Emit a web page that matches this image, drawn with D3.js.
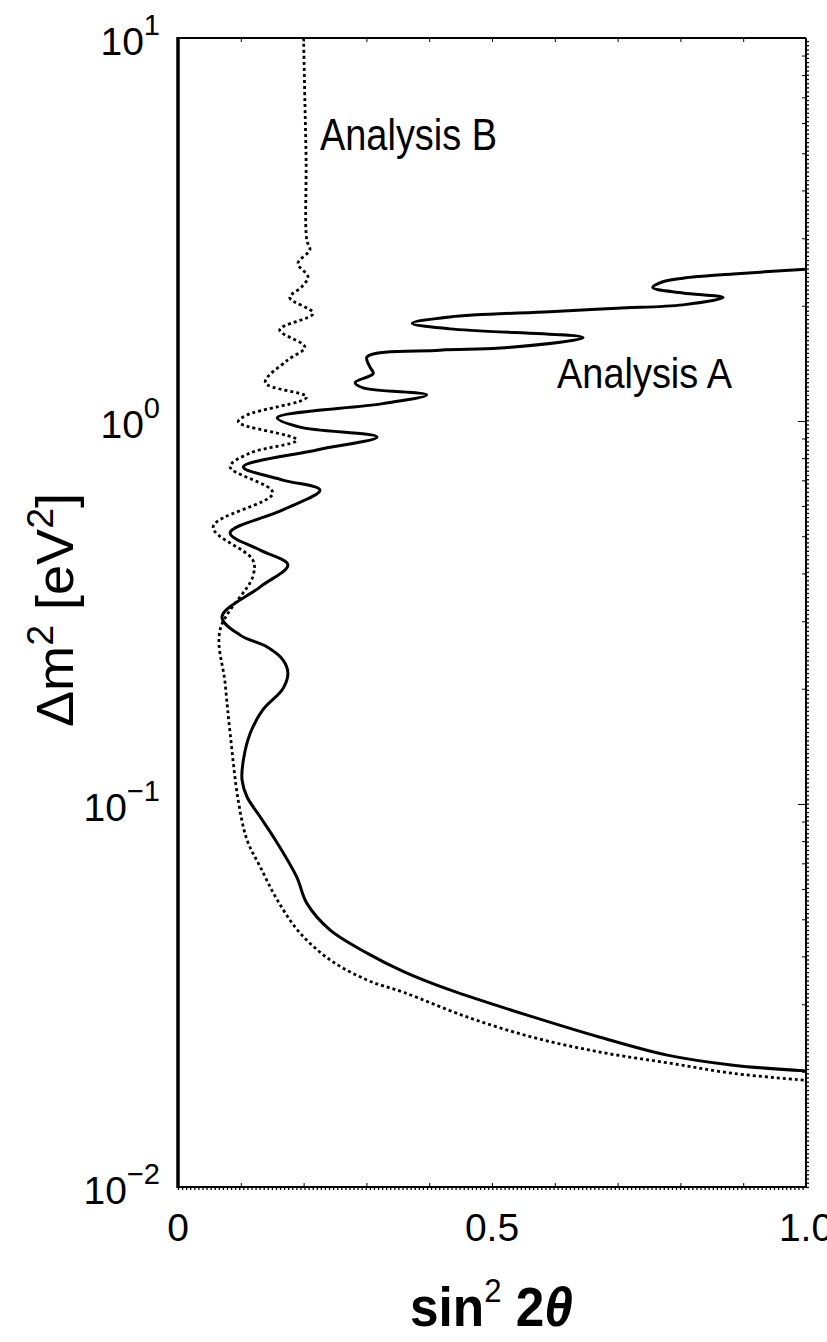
<!DOCTYPE html>
<html>
<head>
<meta charset="utf-8">
<script src="https://cdn.jsdelivr.net/npm/d3@7"></script>
<style>
  body { margin: 0; background: white; }
  text { font-family: "Liberation Sans", Arial, sans-serif; fill: black; }
</style>
</head>
<body>
<div id="root"></div>
<script>
// sin^2 2theta values and delta m^2 values (eV^2)
const analysisAX = [1.0, 0.884, 0.804, 0.772, 0.756, 0.804, 0.868, 0.804, 0.699, 0.592, 0.433, 0.373, 0.433, 0.645,
  0.513, 0.417, 0.301, 0.306, 0.311, 0.282, 0.295, 0.396, 0.326, 0.158, 0.194, 0.317, 0.221, 0.104, 0.167, 0.226,
  0.167, 0.083, 0.131, 0.175, 0.131, 0.070, 0.099, 0.142, 0.167, 0.175, 0.167, 0.135, 0.115, 0.104, 0.102, 0.110, 0.131,
  0.158, 0.189, 0.205, 0.242, 0.301, 0.361, 0.433, 0.565, 0.672, 0.779, 0.884, 1.0];
const analysisAY = [2.49, 2.42, 2.36, 2.31, 2.23, 2.16, 2.10, 2.01, 1.97, 1.93, 1.87, 1.80, 1.74, 1.65,
  1.55, 1.53, 1.47, 1.38, 1.33, 1.26, 1.22, 1.17, 1.11, 1.02, 0.964, 0.908, 0.840, 0.759, 0.701, 0.660,
  0.586, 0.510, 0.460, 0.421, 0.369, 0.308, 0.276, 0.257, 0.238, 0.220, 0.200, 0.176, 0.153, 0.130, 0.1155, 0.1043, 0.0925,
  0.0791, 0.0645, 0.0551, 0.0469, 0.0408, 0.0364, 0.0327, 0.0278, 0.0246, 0.0221, 0.0208, 0.0201];

const analysisBX = [0.200, 0.202, 0.204, 0.205, 0.210, 0.191, 0.207, 0.197, 0.178, 0.215, 0.162, 0.202, 0.174,
  0.139, 0.205, 0.110, 0.096, 0.189, 0.115, 0.083, 0.151, 0.056, 0.119, 0.119, 0.067, 0.075, 0.083, 0.096,
  0.110, 0.131, 0.158, 0.194, 0.242, 0.301, 0.360, 0.460, 0.565, 0.672, 0.779, 0.884, 1.0];
const analysisBY = [10, 6.89, 4.80, 2.97, 2.80, 2.58, 2.38, 2.24, 2.10, 1.91, 1.73, 1.56, 1.44,
  1.26, 1.155, 1.037, 0.994, 0.892, 0.825, 0.759, 0.649, 0.529, 0.434, 0.392, 0.285, 0.207, 0.153, 0.102,
  0.0805, 0.0685, 0.0562, 0.0461, 0.0392, 0.0347, 0.0322, 0.0278, 0.0246, 0.0225, 0.0211, 0.0198, 0.0190];

const xTickValues = [0, 0.5, 1.0];
const xTickLabels = ["0", "0.5", "1.0"];
const yTickValues = [10, 1, 0.1, 0.01];
const yTickExponents = ["1", "0", "\u22121", "\u22122"];

const w = 827;
const h = 1342;
const plotLeft = 178, plotRight = 806, plotTop = 38, plotBottom = 1187;

const xScale = d3.scaleLinear().domain([0, 1]).range([plotLeft, plotRight]);
const yScale = d3.scaleLog().domain([0.01, 10]).range([plotBottom, plotTop]);

const svg = d3.select("#root")
  .append("svg")
  .attr("width", w)
  .attr("height", h)
  .style("background", "white");

// fine hatching under the bottom axis and right of the right axis
svg.append("g")
  .attr("transform", `translate(0, ${plotBottom})`)
  .call(d3.axisBottom(xScale).tickValues(d3.range(0, 1.0001, 0.0065)).tickSize(3).tickFormat(""))
  .call(g => g.select(".domain").remove())
  .call(g => g.selectAll("line").attr("stroke-width", 1.3));

svg.append("g")
  .attr("transform", `translate(${plotRight}, 0)`)
  .call(d3.axisRight(yScale).tickValues(d3.range(-2, 1.0001, 0.011).map(e => Math.pow(10, e))).tickSize(3).tickFormat(""))
  .call(g => g.select(".domain").remove())
  .call(g => g.selectAll("line").attr("stroke-width", 1.3));

// inward ticks
const tenths = d3.range(1, 10).map(i => i / 10);
svg.append("g")
  .attr("transform", `translate(0, ${plotBottom})`)
  .call(d3.axisTop(xScale).tickValues(tenths).tickSize(4).tickFormat(""))
  .call(g => g.select(".domain").remove());
svg.append("g")
  .attr("transform", `translate(0, ${plotTop})`)
  .call(d3.axisBottom(xScale).tickValues(tenths).tickSize(4).tickFormat(""))
  .call(g => g.select(".domain").remove());

const minorY = [];
[0.01, 0.1, 1].forEach(d => { for (let k = 2; k <= 9; k++) minorY.push(d * k); });
svg.append("g")
  .attr("transform", `translate(${plotRight}, 0)`)
  .call(d3.axisLeft(yScale).tickValues(minorY).tickSize(4).tickFormat(""))
  .call(g => g.select(".domain").remove());
svg.append("g")
  .attr("transform", `translate(${plotRight}, 0)`)
  .call(d3.axisLeft(yScale).tickValues([0.1, 1]).tickSize(8).tickFormat(""))
  .call(g => g.select(".domain").remove());

// frame
svg.append("line").attr("x1", plotLeft).attr("x2", plotRight).attr("y1", plotTop).attr("y2", plotTop)
  .attr("stroke", "black").attr("stroke-width", 2);
svg.append("line").attr("x1", plotLeft).attr("x2", plotRight).attr("y1", plotBottom).attr("y2", plotBottom)
  .attr("stroke", "black").attr("stroke-width", 2);
svg.append("line").attr("x1", plotRight).attr("x2", plotRight).attr("y1", plotTop).attr("y2", plotBottom)
  .attr("stroke", "black").attr("stroke-width", 2);
svg.append("line").attr("x1", plotLeft).attr("x2", plotLeft).attr("y1", plotTop - 1).attr("y2", plotBottom + 1)
  .attr("stroke", "black").attr("stroke-width", 3.5);

// curves
const line = d3.line()
  .x(d => xScale(d[0]))
  .y(d => yScale(d[1]))
  .curve(d3.curveCatmullRom.alpha(0.5));

svg.append("path")
  .datum(analysisBX.map((x, i) => [x, analysisBY[i]]))
  .attr("d", line)
  .attr("fill", "none")
  .attr("stroke", "black")
  .attr("stroke-width", 2.8)
  .attr("stroke-dasharray", "3,3");

svg.append("path")
  .datum(analysisAX.map((x, i) => [x, analysisAY[i]]))
  .attr("d", line)
  .attr("fill", "none")
  .attr("stroke", "black")
  .attr("stroke-width", 3);

// tick labels
yTickValues.forEach((v, i) => {
  const t = svg.append("text")
    .attr("x", 160)
    .attr("y", yScale(v) + 17)
    .attr("text-anchor", "end")
    .style("font-size", "39px");
  t.append("tspan").text("10");
  t.append("tspan").attr("dy", -20).style("font-size", "29px").text(yTickExponents[i]);
});

xTickValues.forEach((v, i) => {
  svg.append("text")
    .attr("x", xScale(v))
    .attr("y", plotBottom + 54)
    .attr("text-anchor", "middle")
    .style("font-size", "39px")
    .text(xTickLabels[i]);
});

// axis titles
const xTitle = svg.append("text")
  .attr("x", 410)
  .attr("y", 1326)
  .attr("textLength", 163)
  .attr("lengthAdjust", "spacingAndGlyphs")
  .style("font-size", "56px")
  .style("font-weight", "bold");
xTitle.append("tspan").text("sin");
xTitle.append("tspan").attr("dy", -24).style("font-size", "34px").style("font-weight", "normal").text("2");
xTitle.append("tspan").attr("dy", 24).text(" 2");
xTitle.append("tspan").style("font-style", "italic").text("\u03B8");

const yTitle = svg.append("text")
  .attr("transform", "translate(73, 727) rotate(-90)")
  .attr("textLength", 234)
  .attr("lengthAdjust", "spacingAndGlyphs")
  .style("font-size", "52px");
yTitle.append("tspan").text("\u0394m");
yTitle.append("tspan").attr("dy", -20).style("font-size", "36px").text("2");
yTitle.append("tspan").attr("dy", 20).text("  [eV");
yTitle.append("tspan").attr("dy", -20).style("font-size", "36px").text("2");
yTitle.append("tspan").attr("dy", 20).text("]");

// annotations
svg.append("text")
  .attr("x", 320)
  .attr("y", 150)
  .attr("textLength", 177)
  .attr("lengthAdjust", "spacingAndGlyphs")
  .style("font-size", "45px")
  .text("Analysis B");

svg.append("text")
  .attr("x", 557)
  .attr("y", 388)
  .attr("textLength", 175)
  .attr("lengthAdjust", "spacingAndGlyphs")
  .style("font-size", "43px")
  .text("Analysis A");
</script>
</body>
</html>
